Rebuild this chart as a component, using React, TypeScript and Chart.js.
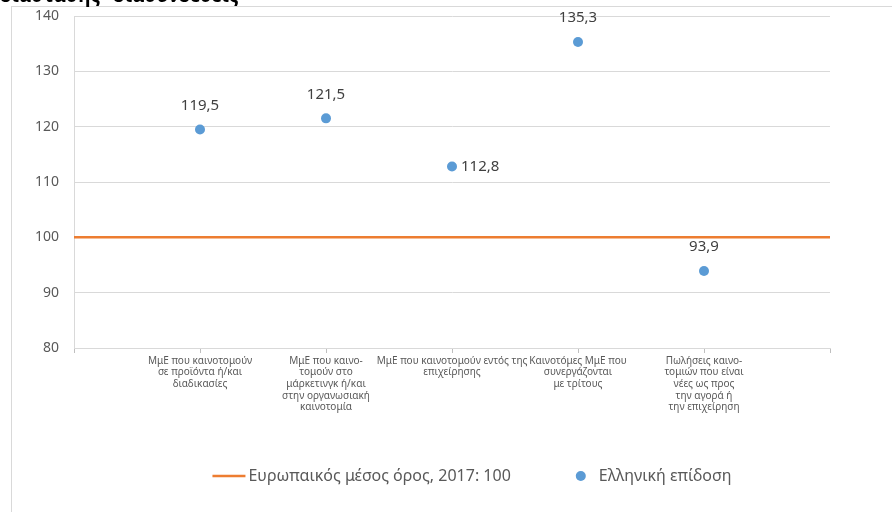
import React, { useEffect, useRef } from 'react';
import { Chart, registerables } from 'chart.js';

Chart.register(...registerables);

// ---- data ----
const titleText = 'διάστασης "διασυνδέσεις"';
const categories: string[][] = [
  ['ΜμΕ που καινοτομούν', 'σε προϊόντα ή/και', 'διαδικασίες'],
  ['ΜμΕ που καινο-', 'τομούν στο', 'μάρκετινγκ ή/και', 'στην οργανωσιακή', 'καινοτομία'],
  ['ΜμΕ που καινοτομούν εντός της', 'επιχείρησης'],
  ['Καινοτόμες ΜμΕ που', 'συνεργάζονται', 'με τρίτους'],
  ['Πωλήσεις καινο-', 'τομιών που είναι', 'νέες ως προς', 'την αγορά ή', 'την επιχείρηση'],
];
const greekPerformance = [119.5, 121.5, 112.8, 135.3, 93.9];
const euAverage = [100, 100, 100, 100, 100, 100, 100];
const yTicks = [80, 90, 100, 110, 120, 130, 140];
const seriesNames = ['Ευρωπαικός μέσος όρος, 2017: 100', 'Ελληνική επίδοση'];

const FONT = "'Noto Sans', 'DejaVu Sans', sans-serif";
const ORANGE = '#ED7D31';
const BLUE = '#5B9BD5';
const GRID = '#d9d9d9';
const TEXT = '#595959';

const fmt = (v: number) => v.toFixed(1).replace('.', ',');

const dataLabelPlugin = {
  id: 'dataLabels',
  afterDatasetsDraw(chart: any) {
    const ctx = chart.ctx;
    const meta = chart.getDatasetMeta(1);
    const ds = chart.data.datasets[1];
    const rightSide: number[] = chart.options.plugins.dataLabels?.rightIndices || [];
    ctx.save();
    ctx.font = `15px ${FONT}`;
    ctx.fillStyle = '#404040';
    meta.data.forEach((el: any, i: number) => {
      const v = ds.data[i];
      if (v === null || v === undefined) return;
      const txt = fmt(v);
      if (rightSide.includes(i)) {
        ctx.textAlign = 'left';
        ctx.textBaseline = 'middle';
        ctx.fillText(txt, el.x + 9, el.y);
      } else {
        ctx.textAlign = 'center';
        ctx.textBaseline = 'middle';
        ctx.fillText(txt, el.x, el.y - 24);
      }
    });
    ctx.restore();
  },
};

const legendPlugin = {
  id: 'customLegend',
  afterDraw(chart: any) {
    const ctx = chart.ctx;
    const y = chart.chartArea.bottom + 128;
    ctx.save();
    ctx.font = `16px ${FONT}`;
    ctx.textBaseline = 'middle';
    ctx.textAlign = 'left';
    const t1 = seriesNames[0];
    const t2 = seriesNames[1];
    const w1 = ctx.measureText(t1).width;
    const w2 = ctx.measureText(t2).width;
    const lineLen = 33;
    const gapLineText = 3;
    const between = 65;
    const dotR = 5;
    const gapDotText = 13;
    const total = lineLen + gapLineText + w1 + between + dotR * 2 + gapDotText + w2;
    let x = chart.width / 2 - total / 2 - 5;
    ctx.strokeStyle = ORANGE;
    ctx.lineWidth = 2.5;
    ctx.beginPath();
    ctx.moveTo(x, y);
    ctx.lineTo(x + lineLen, y);
    ctx.stroke();
    x += lineLen + gapLineText;
    ctx.fillStyle = TEXT;
    ctx.fillText(t1, x, y);
    x += w1 + between;
    ctx.fillStyle = BLUE;
    ctx.beginPath();
    ctx.arc(x + dotR, y, dotR, 0, Math.PI * 2);
    ctx.fill();
    x += dotR * 2 + gapDotText;
    ctx.fillStyle = TEXT;
    ctx.fillText(t2, x, y);
    ctx.restore();
  },
};

export default function App() {
  const ref = useRef<HTMLCanvasElement | null>(null);

  useEffect(() => {
    if (!ref.current) return;
    const axisLabels: any[] = ['', ...categories, ''];
    const pointData: (number | null)[] = [null, ...greekPerformance, null];
    const chart = new Chart(ref.current, {
      type: 'line',
      data: {
        labels: axisLabels,
        datasets: [
          {
            label: seriesNames[0],
            data: euAverage,
            borderColor: ORANGE,
            backgroundColor: ORANGE,
            borderWidth: 2.5,
            pointRadius: 0,
            pointHoverRadius: 0,
            fill: false,
          },
          {
            label: seriesNames[1],
            data: pointData,
            showLine: false,
            borderColor: BLUE,
            backgroundColor: BLUE,
            pointRadius: 5,
            pointBorderWidth: 0,
            pointBackgroundColor: BLUE,
            pointBorderColor: BLUE,
          },
        ],
      },
      options: {
        responsive: false,
        animation: false,
        devicePixelRatio: 1,
        layout: { padding: { top: 9, right: 112, left: 0, bottom: 0 } },
        plugins: {
          legend: { display: false },
          tooltip: { enabled: false },
          title: { display: false },
          dataLabels: { rightIndices: [3] },
        } as any,
        scales: {
          x: {
            type: 'category',
            offset: false,
            afterFit: (scale: any) => {
              scale.height = 179;
              scale.paddingTop = 0;
              scale.paddingBottom = 0;
            },
            grid: {
              display: true,
              drawOnChartArea: false,
              drawTicks: true,
              tickLength: 5,
              color: '#bfbfbf',
              lineWidth: 1,
            },
            border: { display: true, color: GRID, width: 1 },
            ticks: {
              autoSkip: false,
              maxRotation: 0,
              minRotation: 0,
              padding: 2,
              color: TEXT,
              font: { family: FONT, size: 10, lineHeight: 1.17 },
            },
          },
          y: {
            type: 'linear',
            min: yTicks[0],
            max: yTicks[yTicks.length - 1],
            afterFit: (scale: any) => {
              scale.width = 62;
              scale.paddingTop = 0;
              scale.paddingBottom = 0;
            },
            grid: {
              color: GRID,
              lineWidth: 1,
              drawTicks: false,
            },
            border: { display: true, color: GRID, width: 1 },
            ticks: {
              stepSize: yTicks[1] - yTicks[0],
              padding: 15,
              color: TEXT,
              font: { family: FONT, size: 14 },
            },
          },
        },
      },
      plugins: [dataLabelPlugin, legendPlugin],
    });
    return () => chart.destroy();
  }, []);

  return (
    <div
      style={{
        position: 'fixed',
        left: 0,
        top: 0,
        width: 892,
        height: 512,
        overflow: 'hidden',
        background: '#fff',
      }}
    >
      <div
        style={{
          position: 'absolute',
          left: 11,
          top: 6,
          width: 930,
          height: 520,
          border: '1px solid #d9d9d9',
          background: '#fff',
        }}
      >
        <canvas ref={ref} width={930} height={520} style={{ display: 'block' }} />
      </div>
      <div
        style={{
          position: 'absolute',
          left: 0,
          top: -14,
          fontFamily: FONT,
          fontWeight: 'bold',
          fontSize: 19,
          lineHeight: '19px',
          color: '#000',
          whiteSpace: 'nowrap',
          zIndex: 2,
        }}
      >
        {titleText}
      </div>
    </div>
  );
}
